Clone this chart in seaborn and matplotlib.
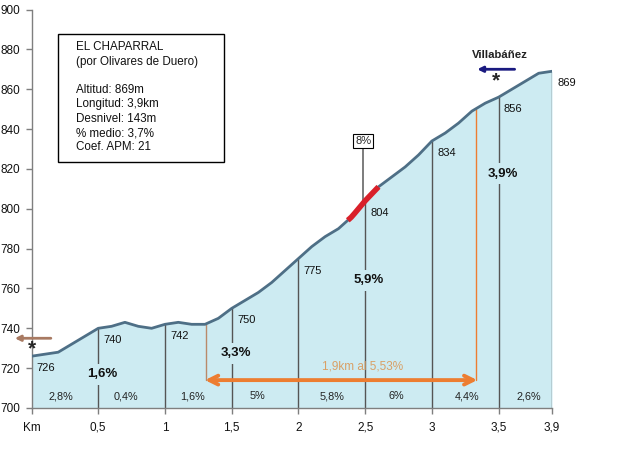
import numpy as np
import pandas as pd
import matplotlib
matplotlib.use("Agg")
import matplotlib.pyplot as plt
import seaborn as sns

# ---------------- data ----------------
km = [0.0, 0.1, 0.2, 0.3, 0.4, 0.5, 0.6, 0.7, 0.8, 0.9,
      1.0, 1.1, 1.2, 1.3, 1.4, 1.5, 1.6, 1.7, 1.8, 1.9,
      2.0, 2.1, 2.2, 2.3, 2.4, 2.5, 2.6, 2.7, 2.8, 2.9,
      3.0, 3.1, 3.2, 3.3, 3.4, 3.5, 3.6, 3.7, 3.8, 3.9]
alt = [726, 727, 728, 732, 736, 740, 741, 743, 741, 740,
       742, 743, 742, 742, 745, 750, 754, 758, 763, 769,
       775, 781, 786, 790, 796, 804, 811, 816, 821, 827,
       834, 838, 843, 849, 853, 856, 860, 864, 868, 869]

point_km = [0, 0.5, 1, 1.5, 2, 2.5, 3, 3.5, 3.9]
point_alt = [726, 740, 742, 750, 775, 804, 834, 856, 869]

seg_pct = ["2,8%", "0,4%", "1,6%", "5%", "5,8%", "6%", "4,4%", "2,6%"]
seg_mid_km = [0.22, 0.71, 1.21, 1.69, 2.25, 2.735, 3.26, 3.73]

big_pct = ["1,6%", "3,3%", "5,9%", "3,9%"]
big_km = [0.5, 1.5, 2.5, 3.5]

xticks = [0, 0.5, 1, 1.5, 2, 2.5, 3, 3.5, 3.9]
xticklabels = ["Km", "0,5", "1", "1,5", "2", "2,5", "3", "3,5", "3,9"]
yticks = list(range(700, 901, 20))

steep_start, steep_end = 2.37, 2.6
steep_label = "8%"
stretch_start, stretch_end = 1.31, 3.33
stretch_label = "1,9km al 5,53%"

info_lines = ["EL CHAPARRAL", "(por Olivares de Duero)", "",
              "Altitud: 869m", "Longitud: 3,9km", "Desnivel: 143m",
              "% medio: 3,7%", "Coef. APM: 21"]

# ---------------- style ----------------
sns.set_theme(style="white")
plt.rcParams['font.family'] = ['Liberation Sans', 'DejaVu Sans']

FILL = "#CDEBF2"
LINE = "#4E6F86"
VLINE = "#555555"
ORANGE = "#ED7D31"

df = pd.DataFrame({"km": km, "alt": alt})

fig = plt.figure(figsize=(6.4, 4.62), dpi=100)
ax = fig.add_axes([31.5 / 640, 54 / 462, 520.5 / 640, 398.5 / 462])

ax.fill_between(df["km"], 700, df["alt"], color=FILL, zorder=1, lw=0)

# vertical markers
for x, a in zip(point_km[1:], point_alt[1:]):
    ax.plot([x, x], [700, a], color=VLINE, lw=1, zorder=2)

# stretch verticals
a0 = np.interp(stretch_start, km, alt)
a1 = np.interp(stretch_end, km, alt)
ax.plot([stretch_start, stretch_start], [714, a0], color="#B98A6A", lw=1, zorder=2)
ax.plot([stretch_end, stretch_end], [714, a1], color=ORANGE, lw=1, zorder=2)

sns.lineplot(data=df, x="km", y="alt", ax=ax, color=LINE, lw=2, zorder=5)

# steep red segment
sx = np.linspace(steep_start, steep_end, 10)
ax.plot(sx, np.interp(sx, km, alt), color="#D9202A", lw=4, zorder=6,
        solid_capstyle="butt")
ax.plot([2.485, 2.485], [803, 831], color="#666666", lw=1.2, zorder=4)
ax.text(2.485, 834, steep_label, ha="center", va="center", fontsize=8,
        bbox=dict(boxstyle="square,pad=0.15", fc="white", ec="black", lw=0.8),
        zorder=7)

# point labels
for x, a in zip(point_km, point_alt):
    ax.text(x + 0.04, a - 6, str(a), ha="left", va="center", fontsize=8,
            color="#111111", zorder=7)

# segment percentages
for x, t in zip(seg_mid_km, seg_pct):
    ax.text(x, 706, t, ha="center", va="center", fontsize=7.8, color="#222222",
            zorder=7)

# big percentages with gap in the vertical line
big_y = [717, 727.5, 764, 817.6]
for x, y, t in zip(big_km, big_y, big_pct):
    ax.text(x + 0.03, y, t, ha="center", va="center", fontsize=9.5,
            fontweight="bold", color="#111111", zorder=7,
            bbox=dict(boxstyle="square,pad=0.35", fc=FILL, ec="none"))

# stretch arrow
ax.annotate("", xy=(stretch_start - 0.01, 714), xytext=(stretch_end + 0.01, 714),
            arrowprops=dict(arrowstyle="<->", color=ORANGE, lw=2.8,
                            mutation_scale=16, shrinkA=0, shrinkB=0), zorder=8)
ax.text(2.48, 721, stretch_label, ha="center", va="center", fontsize=8.5,
        color="#D9A066", zorder=7)

# start marker
ax.annotate("", xy=(-0.125, 735), xytext=(0.145, 735),
            arrowprops=dict(arrowstyle="-|>", color="#A87A62", lw=2,
                            mutation_scale=8, shrinkA=0, shrinkB=0),
            annotation_clip=False, zorder=8)
ax.text(0.0, 729.5, "*", ha="center", va="center", fontsize=15,
        fontweight="bold", zorder=8, clip_on=False)

# Villabáñez marker
ax.text(3.51, 877, "Villabáñez", ha="center", va="center", fontsize=8.2,
        fontweight="bold", color="#222222", zorder=8)
ax.annotate("", xy=(3.34, 870), xytext=(3.62, 870),
            arrowprops=dict(arrowstyle="-|>", color="#1A1A80", lw=2,
                            mutation_scale=8, shrinkA=0, shrinkB=0), zorder=8)
ax.text(3.48, 864, "*", ha="center", va="center", fontsize=15,
        fontweight="bold", zorder=8)

# info box
ax.add_patch(plt.Rectangle((57.5 / 640, (462 - 161.5) / 462), 166 / 640, 127.5 / 462,
                           transform=fig.transFigure, fill=False, ec="black",
                           lw=1, zorder=9, clip_on=False))
ys = [46.7, 62.3, 76, 90, 104.3, 118.7, 133, 146.7]
for t, y in zip(info_lines, ys):
    fig.text(76 / 640, 1 - y / 462, t, ha="left", va="center", fontsize=8.4,
             color="#111111")

# axes
ax.set_xlim(0, 3.9)
ax.set_ylim(700, 900)
ax.set_xticks(xticks)
ax.set_xticklabels(xticklabels)
ax.set_yticks(yticks)
ax.set_xlabel("")
ax.set_ylabel("")
for s in ["top", "right"]:
    ax.spines[s].set_visible(False)
for s in ["left", "bottom"]:
    ax.spines[s].set_color("#7F7F7F")
    ax.spines[s].set_linewidth(1)
ax.tick_params(axis="both", which="major", length=4, width=1, color="#7F7F7F",
               labelsize=8.5, labelcolor="#111111", direction="out",
               left=True, bottom=True)
ax.tick_params(axis="x", pad=6)
ax.tick_params(axis="y", pad=4)

fig.savefig("out.png", dpi=100)
